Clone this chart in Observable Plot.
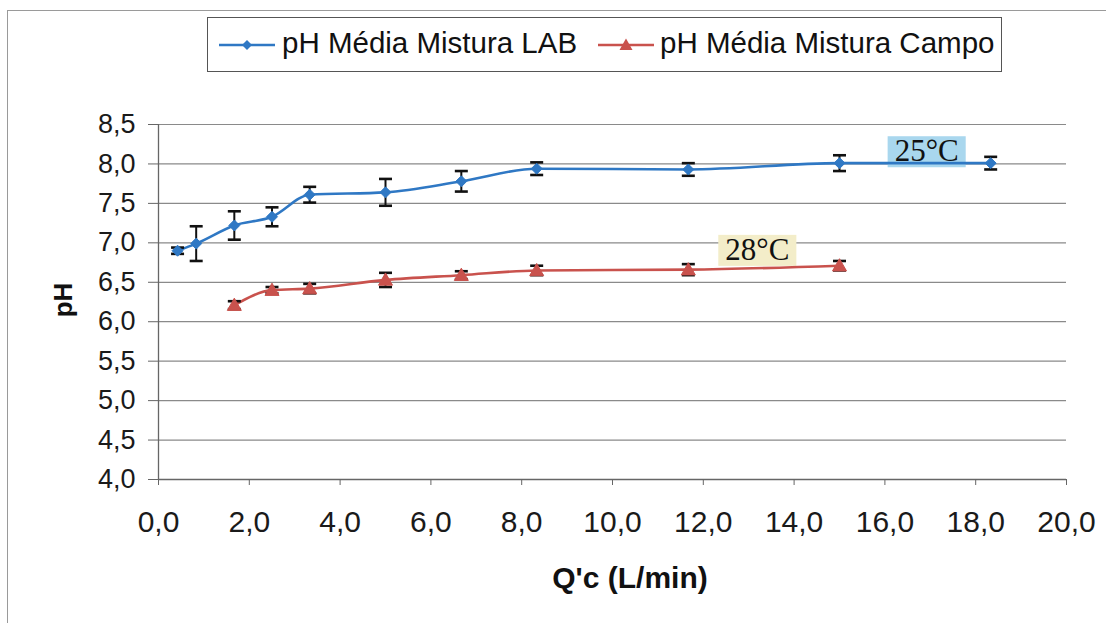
<!DOCTYPE html>
<html>
<head>
<meta charset="utf-8">
<script src="https://cdn.jsdelivr.net/npm/d3@7"></script>
<script src="https://cdn.jsdelivr.net/npm/@observablehq/plot@0.6"></script>
<style>
  html, body { margin: 0; padding: 0; background: #fff; }
  body { width: 1106px; height: 623px; position: relative; overflow: hidden;
         font-family: "Liberation Sans", Arial, sans-serif; color: #111; }
  #frame { position: absolute; left: 7px; top: 10px; width: 1300px; height: 900px;
           border: 1.5px solid #9a9a9a; }
  #chart { position: absolute; left: 0; top: 0; }
  #legend { position: absolute; left: 207px; top: 17px; width: 795px; height: 55px;
            box-sizing: border-box; border: 1.5px solid #555; background: #fff; }
  .leg-item { position: absolute; top: 0; height: 52px; }
  .leg-item svg { position: absolute; top: 13px; }
  .leg-item span { position: absolute; top: 8px; font-size: 29.5px; white-space: nowrap; color: #111; }
  .ytitle { position: absolute; font-weight: bold; font-size: 26px; transform: translate(-50%, -50%) rotate(-90deg); }
  .xtitle { position: absolute; font-weight: bold; font-size: 30px; white-space: nowrap; transform: translate(-50%, -50%); }
</style>
</head>
<body>
<div id="frame"></div>
<div id="chart"></div>
<div id="legend"></div>
<div class="ytitle" style="left:63px; top:300px;">pH</div>
<div class="xtitle" style="left:630px; top:578px;">Q'c (L/min)</div>
<script>
// ---- Data ----
const qLab   = [0.42, 0.83, 1.67, 2.50, 3.33, 5.00, 6.67, 8.33, 11.67, 15.00, 18.33];
const phLab  = [6.90, 6.99, 7.22, 7.33, 7.61, 7.64, 7.78, 7.94, 7.93, 8.01, 8.01];
const errLab = [0.04, 0.22, 0.18, 0.12, 0.10, 0.17, 0.13, 0.08, 0.08, 0.10, 0.08];

const qCampo   = [1.67, 2.50, 3.33, 5.00, 6.67, 8.33, 11.67, 15.00];
const phCampo  = [6.21, 6.40, 6.42, 6.53, 6.59, 6.65, 6.66, 6.71];
const errCampo = [0.05, 0.04, 0.06, 0.09, 0.05, 0.06, 0.07, 0.06];

const seriesNames  = ["pH Média Mistura LAB", "pH Média Mistura Campo"];
const seriesColors = ["#2f78c4", "#c9524d"];

const xTicks = [0, 2, 4, 6, 8, 10, 12, 14, 16, 18, 20];
const yTicks = [4.0, 4.5, 5.0, 5.5, 6.0, 6.5, 7.0, 7.5, 8.0, 8.5];

const annotText = ["25°C", "28°C"];
const annotX    = [16.92, 13.19];
const annotY    = [8.16, 6.91];
const annotBg   = ["#a9d7ee", "#f3edc9"];

// ---- Build tables ----
const lab = qLab.map((q, i) => ({q, ph: phLab[i], e: errLab[i]}));
const campo = qCampo.map((q, i) => ({q, ph: phCampo[i], e: errCampo[i]}));
const annots = annotText.map((t, i) => ({t, x: annotX[i], y: annotY[i], bg: annotBg[i]}));

const fmt = d => d.toFixed(1).replace(".", ",");

const diamondSym = {draw(ctx, size) { const r = Math.sqrt(size / Math.PI);
  ctx.moveTo(0, -r); ctx.lineTo(r, 0); ctx.lineTo(0, r); ctx.lineTo(-r, 0); ctx.closePath(); }};
const triSym = {draw(ctx, size) { const r = Math.sqrt(size / Math.PI);
  ctx.moveTo(0, -r); ctx.lineTo(r, r * 0.75); ctx.lineTo(-r, r * 0.75); ctx.closePath(); }};
const capSym = {draw(ctx, size) { const r = Math.sqrt(size / Math.PI);
  ctx.moveTo(-r, 0); ctx.lineTo(r, 0); }};

function errMarks(data) {
  return [
    Plot.ruleX(data, {x: "q", y1: d => d.ph - d.e, y2: d => d.ph + d.e, stroke: "#111", strokeWidth: 2}),
    Plot.dot(data, {x: "q", y: d => d.ph - d.e, symbol: capSym, r: 6.5, stroke: "#111", strokeWidth: 2.6, fill: "none"}),
    Plot.dot(data, {x: "q", y: d => d.ph + d.e, symbol: capSym, r: 6.5, stroke: "#111", strokeWidth: 2.6, fill: "none"})
  ];
}

const plot = Plot.plot({
  width: 1106,
  height: 623,
  marginLeft: 158,
  marginRight: 40,
  marginTop: 124,
  marginBottom: 144,
  style: {background: "transparent", color: "#111", fontFamily: '"Liberation Sans", Arial, sans-serif'},
  x: {domain: [0, 20]},
  y: {domain: [4, 8.5]},
  marks: [
    Plot.gridY(yTicks, {stroke: "#8a8a8a", strokeOpacity: 1, strokeWidth: 1.2}),
    Plot.text(annots, {x: "x", y: "y", text: "t", fontSize: 31, fill: "#111",
      fontFamily: '"Liberation Serif", "Times New Roman", serif', className: "annot"}),
    Plot.ruleX([0], {stroke: "#666", strokeWidth: 1.3}),
    Plot.ruleY([4], {stroke: "#666", strokeWidth: 1.3}),
    Plot.axisY(yTicks, {tickSize: 10, tickPadding: 13, fontSize: 27, tickFormat: fmt, label: null, stroke: "#666", fill: "#1a1a1a"}),
    Plot.axisX(xTicks, {tickSize: 6, tickPadding: 25, fontSize: 30, tickFormat: fmt, label: null, stroke: "#666", fill: "#1a1a1a"}),
    Plot.line(lab, {x: "q", y: "ph", stroke: seriesColors[0], strokeWidth: 2.6, curve: "monotone-x"}),
    Plot.line(campo, {x: "q", y: "ph", stroke: seriesColors[1], strokeWidth: 2.6, curve: "monotone-x"}),
    ...errMarks(lab),
    ...errMarks(campo),
    Plot.dot(lab, {x: "q", y: "ph", symbol: diamondSym, r: 5.5, fill: seriesColors[0], stroke: seriesColors[0], strokeWidth: 1}),
    Plot.dot(campo, {x: "q", y: "ph", symbol: triSym, r: 7, fill: seriesColors[1], stroke: seriesColors[1], strokeWidth: 1})
  ]
});
document.getElementById("chart").appendChild(plot);

// background boxes behind annotation labels (same transform as each text)
d3.select(plot).selectAll("g.annot text").each(function(_, i) {
  const bb = this.getBBox();
  const a = annots[i];
  const g = this.parentNode;
  const rect = document.createElementNS("http://www.w3.org/2000/svg", "rect");
  const tr = this.getAttribute("transform");
  if (tr) rect.setAttribute("transform", tr);
  rect.setAttribute("x", bb.x - 7);
  rect.setAttribute("y", bb.y + 3);
  rect.setAttribute("width", bb.width + 14);
  rect.setAttribute("height", bb.height - 4);
  rect.setAttribute("fill", a ? a.bg : "#eee");
  g.insertBefore(rect, g.firstChild);
});

// ---- Legend ----
const legend = document.getElementById("legend");
const legPos = [{sw: 10, tx: 74}, {sw: 389, tx: 452}];
const legSyms = [diamondSym, triSym];
const legR = [5, 6.5];
seriesNames.forEach((name, i) => {
  const item = document.createElement("div");
  item.className = "leg-item";
  item.style.left = legPos[i].sw + "px";
  const s = d3.create("svg").attr("width", 60).attr("height", 28);
  s.append("line").attr("x1", 1).attr("x2", 57).attr("y1", 14).attr("y2", 14)
    .attr("stroke", seriesColors[i]).attr("stroke-width", 2.4);
  s.append("path").attr("transform", "translate(29,14)")
    .attr("d", d3.symbol(legSyms[i], Math.PI * legR[i] * legR[i])()).attr("fill", seriesColors[i]);
  item.appendChild(s.node());
  const sp = document.createElement("span");
  sp.textContent = name;
  sp.style.left = (legPos[i].tx - legPos[i].sw) + "px";
  item.appendChild(sp);
  legend.appendChild(item);
});
</script>
</body>
</html>
